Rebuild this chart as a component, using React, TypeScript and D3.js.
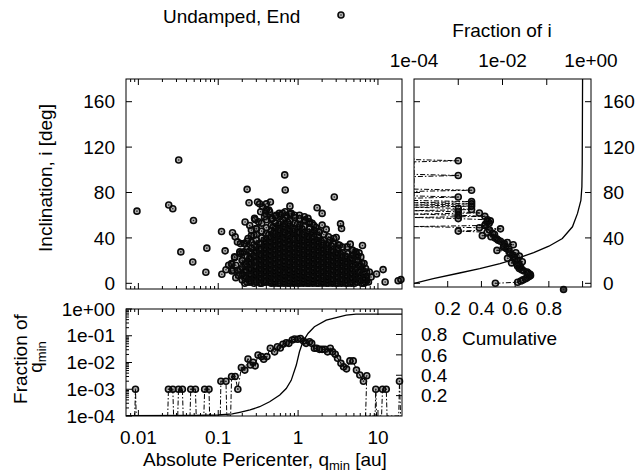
import React from "react";
import * as d3 from "d3";

const FONT = "'Liberation Sans', Arial, Helvetica, sans-serif";
const FS = 19;

// ---------- DATA ----------
// scatter: [q_min (au), inclination (deg)] — isolated points
const scatterOutliers: [number, number][] = [
  [0.0096, 63.6], [0.024, 69], [0.027, 65.7], [0.032, 108.7], [0.034, 27.7], [0.048, 18.8],
  [0.049, 55.4], [0.07, 9.7], [0.072, 31], [0.11, 45.7], [0.122, 28.6], [0.111, 8],
  [0.125, 12], [0.151, 44.5], [0.148, 10.9], [0.166, 5], [0.161, 22.7], [0.147, 16.8],
  [0.23, 82.8], [0.243, 71], [0.31, 71.6], [0.33, 70], [0.217, 54], [0.45, 71.6], [0.4, 70],
  [0.68, 95.5], [0.69, 82.2], [0.79, 68], [1.73, 66.6], [2.0, 61.6], [2.84, 76], [3.4, 52.4],
  [3.5, 48.3], [2.25, 47.5], [4.5, 34.5], [6.4, 33.3], [5.3, 27.7], [5.8, 26.8], [9.6, 8.2],
  [11.6, 12.1], [12.3, 1.2], [17.9, 2.3], [19.4, 3.3], [7.0, 5.6], [7.0, 1.2],
];

// scatter: points around the edge of the dense cloud
const scatterFringe: [number, number][] = [
  [0.163, 41], [0.174, 36.5], [0.19, 35], [0.21, 35], [0.248, 51], [0.29, 56], [0.34, 63],
  [0.36, 67.5], [0.39, 61.6], [0.43, 64.5], [0.21, 27.7], [0.19, 26.3], [0.2, 20.3],
  [0.166, 15.9], [0.174, 11.5], [0.19, 12], [0.18, 7], [0.21, 7], [0.24, 3.3], [0.37, 3.3],
  [0.135, 15.9], [1.2, 58.6], [1.33, 57.2], [1.04, 60], [1.84, 45.4], [1.6, 46.9], [2.5, 38],
  [2.8, 39.5], [3.0, 40.4], [3.3, 33.6], [4.1, 32.1], [4.8, 29.2], [5.3, 26.3], [6.1, 23.3],
  [5.6, 20.3], [6.7, 17.4], [6.1, 14.4], [7.0, 13], [7.8, 10], [5.8, 8.6], [8.2, 5.6],
  [6.9, 2.7], [7.6, 1.2], [5.6, 4.1], [0.285, 57.2], [0.32, 54.2], [0.4, 64.5], [0.44, 63],
  [0.38, 58.6], [0.3, 48.3], [0.28, 42.4], [0.236, 39.5], [0.215, 35], [0.186, 27.7],
  [0.16, 23.3], [0.147, 17.4], [0.154, 11.5], [0.26, 46.9], [0.58, 61.6], [0.64, 61.6],
  [0.71, 60], [0.82, 61.6], [0.9, 60], [0.48, 57], [0.53, 60], [1.22, 55.7], [1.39, 54.2],
  [1.5, 52.8], [1.67, 49.2], [2.0, 51.3],
];

// scatter: dense cloud, estimated as columns [q_min, inclinations...]
const scatterCore: [number, number[]][] = [
  [0.2, [3, 8, 14, 20, 27]],
  [0.23, [1, 5, 10, 15, 19, 24, 30, 37]],
  [0.26, [2, 6, 9, 13, 17, 21, 26, 31, 36, 42]],
  [0.3, [1, 4, 8, 11, 15, 19, 23, 27, 32, 38, 43, 48]],
  [0.35, [0, 3, 7, 10, 14, 18, 22, 26, 30, 35, 40, 46, 53]],
  [0.4, [1, 4, 8, 12, 15, 19, 23, 27, 31, 35, 39, 44, 49, 56]],
  [0.46, [0, 3, 6, 10, 13, 17, 21, 25, 29, 33, 37, 41, 46, 51, 57]],
  [0.52, [2, 5, 8, 12, 15, 19, 23, 27, 31, 35, 39, 43, 48, 53, 59]],
  [0.6, [0, 3, 6, 9, 13, 16, 20, 24, 28, 32, 36, 40, 44, 49, 54, 60]],
  [0.69, [1, 4, 7, 11, 14, 18, 22, 26, 30, 34, 38, 42, 47, 52, 58, 63]],
  [0.79, [0, 2, 5, 9, 12, 16, 20, 24, 28, 32, 36, 40, 45, 50, 55, 61]],
  [0.91, [1, 4, 7, 10, 14, 18, 22, 26, 30, 34, 38, 43, 48, 53, 58]],
  [1.05, [0, 3, 6, 9, 13, 17, 21, 25, 29, 33, 37, 41, 46, 51, 57]],
  [1.2, [1, 4, 8, 11, 15, 19, 23, 27, 31, 35, 40, 45, 50, 55]],
  [1.38, [0, 3, 6, 10, 14, 18, 22, 26, 30, 34, 38, 43, 48, 53]],
  [1.58, [2, 5, 8, 12, 16, 20, 24, 28, 32, 36, 41, 46, 51]],
  [1.82, [0, 3, 7, 11, 15, 19, 23, 27, 31, 35, 40, 45]],
  [2.1, [1, 4, 8, 12, 16, 20, 24, 28, 33, 38, 43]],
  [2.4, [0, 3, 6, 10, 14, 18, 22, 26, 31, 36, 41]],
  [2.75, [2, 5, 9, 13, 17, 21, 25, 30, 35]],
  [3.16, [0, 3, 7, 11, 15, 19, 24, 29, 34]],
  [3.6, [1, 5, 9, 13, 17, 22, 27, 32]],
  [4.2, [0, 3, 7, 11, 16, 21, 26]],
  [4.8, [2, 6, 10, 15, 20, 25, 29]],
  [5.5, [1, 5, 9, 14, 19, 24]],
  [6.3, [0, 4, 8, 13, 18]],
  [7.2, [2, 6, 10]],
];
const scatterCoreMid: [number, number[]][] = [
  [0.215, [0, 5, 11, 17]],
  [0.245, [3, 8, 13, 21, 28]],
  [0.28, [0, 4, 11, 15, 19, 24, 34]],
  [0.325, [2, 6, 10, 13, 17, 21, 25, 29, 35]],
  [0.375, [1, 5, 9, 12, 16, 20, 24, 28, 33, 38]],
  [0.43, [2, 6, 10, 14, 17, 21, 25, 29, 33, 37, 43]],
  [0.49, [1, 4, 8, 11, 15, 19, 23, 27, 31, 35, 39, 44, 50]],
  [0.56, [0, 3, 7, 10, 14, 17, 21, 25, 29, 33, 37, 42, 47]],
  [0.645, [2, 5, 8, 12, 16, 20, 24, 28, 32, 36, 40, 45, 51, 56]],
  [0.74, [0, 3, 6, 10, 13, 17, 21, 25, 29, 33, 37, 42, 48, 54]],
  [0.85, [1, 4, 7, 11, 14, 18, 22, 26, 30, 34, 39, 44, 49]],
  [0.98, [0, 2, 5, 8, 12, 16, 20, 24, 28, 32, 36, 41, 45, 52]],
  [1.12, [1, 4, 7, 11, 15, 19, 23, 27, 31, 35, 39, 43, 48]],
  [1.29, [0, 2, 5, 9, 13, 17, 21, 25, 29, 33, 37, 42]],
  [1.48, [1, 4, 7, 11, 15, 19, 23, 27, 31, 35, 39, 44]],
  [1.7, [0, 3, 6, 10, 14, 18, 22, 26, 30, 34, 38]],
  [1.95, [1, 5, 9, 13, 17, 21, 25, 29, 33, 37]],
  [2.25, [0, 2, 6, 10, 14, 18, 22, 27, 32]],
  [2.6, [1, 4, 8, 12, 16, 20, 24, 28, 33]],
  [2.95, [0, 3, 7, 11, 15, 19, 23, 27]],
  [3.4, [2, 5, 9, 13, 17, 21, 26]],
  [3.9, [0, 4, 8, 12, 16, 20, 24]],
  [4.5, [1, 5, 9, 13, 18, 22]],
  [5.1, [0, 3, 7, 12, 17]],
  [5.9, [2, 6, 11, 16]],
  [6.7, [0, 4, 9]],
];
const scatterCoreLow: [number, number[]][] = [
  [0.25, [1, 7, 12, 18, 23]],
  [0.29, [2, 6, 9, 14, 20, 28]],
  [0.335, [0, 4, 8, 12, 16, 20, 24, 31]],
  [0.385, [2, 6, 10, 14, 18, 22, 26, 30, 36]],
  [0.445, [1, 5, 8, 12, 16, 20, 24, 28, 32, 36, 40]],
  [0.505, [0, 3, 7, 10, 13, 17, 21, 25, 29, 33, 37, 42, 45]],
  [0.58, [1, 5, 8, 11, 15, 18, 22, 26, 30, 34, 38, 43, 46, 52]],
  [0.665, [0, 3, 6, 9, 13, 16, 19, 23, 27, 31, 35, 39, 44, 49]],
  [0.765, [1, 4, 8, 11, 15, 18, 22, 26, 30, 34, 38, 43, 47, 52]],
  [0.88, [0, 3, 6, 9, 12, 16, 20, 24, 27, 31, 35, 40, 46]],
  [1.01, [1, 4, 7, 10, 14, 18, 22, 26, 30, 34, 39, 44, 49]],
  [1.16, [0, 3, 6, 9, 13, 17, 21, 25, 29, 33, 37, 42]],
  [1.33, [1, 4, 7, 11, 15, 19, 23, 27, 31, 35, 40, 45]],
  [1.53, [0, 3, 6, 10, 13, 17, 21, 25, 29, 33, 37]],
  [1.76, [1, 4, 8, 12, 16, 20, 24, 28, 32, 36, 42]],
  [2.02, [0, 3, 6, 10, 14, 18, 22, 26, 30, 35]],
  [2.33, [2, 5, 8, 12, 16, 20, 24, 29, 34]],
  [2.68, [0, 3, 7, 11, 15, 19, 23, 28]],
  [3.05, [1, 5, 9, 13, 17, 21, 26, 31]],
  [3.5, [0, 3, 7, 11, 15, 19, 24]],
  [4.0, [2, 6, 10, 14, 18, 23]],
  [4.65, [0, 4, 8, 12, 16, 21]],
];

// right panel: fraction of particles per 1-degree inclination bin (index = inclination)
const incFraction: number[] = [
  0.0069, 0.022, 0.026, 0.029, 0.033, 0.036, 0.04, 0.043, 0.042, 0.038,
  0.036, 0.03, 0.027, 0.024, 0.026, 0.022, 0.024, 0.021, 0.016, 0.028,
  0.022, 0.019, 0.013, 0.018, 0.024, 0.017, 0.015, 0.02, 0.014, 0.0075,
  0.014, 0.012, 0.0105, 0.0107, 0.0175, 0.011, 0.0128, 0.009, 0.008, 0.0075,
  0.0068, 0.0055, 0.0035, 0.0066, 0.006, 0.0045, 0.001, 0.0051, 0.009, 0.003,
  0, 0.004, 0.0041, 0.005, 0.0045, 0.0053, 0.0046, 0.001, 0, 0.004,
  0.001, 0, 0.003, 0.001, 0, 0.002, 0.001, 0, 0.002, 0,
  0.002, 0, 0.002, 0, 0, 0, 0.001, 0, 0, 0,
  0, 0, 0.002, 0, 0, 0, 0, 0, 0, 0,
  0, 0, 0, 0, 0, 0.001, 0, 0, 0, 0,
  0, 0, 0, 0, 0, 0, 0, 0, 0.001, 0, 0,
];
const incStrayPoint: [number, number] = [0.24, -5.5];
// right panel: cumulative fraction vs inclination [inclination, cumulative]
const incCumulative: [number, number][] = [
  [0, 0], [4.1, 0.114], [9.1, 0.27], [13, 0.39], [17.4, 0.51], [21.8, 0.61], [27.1, 0.71],
  [32.7, 0.8], [39.5, 0.88], [49.8, 0.94], [61.6, 0.97], [73, 0.99], [85, 0.996],
  [106, 0.998], [180, 1.0],
];

// bottom panel: fraction per log bin of q_min [q, fraction] (0 = empty bin)
const qFraction: [number, number][] = [
  [0.009, 0], [0.0092, 0.001], [0.0094, 0],
  [0.0233, 0], [0.0238, 0.001], [0.027, 0.001], [0.0276, 0],
  [0.0311, 0], [0.0318, 0.001], [0.0356, 0.001], [0.0364, 0],
  [0.0443, 0], [0.0453, 0.001], [0.0518, 0.001], [0.053, 0],
  [0.066, 0], [0.0676, 0.001], [0.0766, 0.001], [0.078, 0],
  [0.106, 0], [0.108, 0.002], [0.125, 0.002], [0.128, 0],
  [0.143, 0], [0.147, 0.003], [0.163, 0.003], [0.176, 0.001],
  [0.195, 0.0065], [0.215, 0.0052], [0.236, 0.0135], [0.253, 0.0081], [0.273, 0.0102],
  [0.29, 0.0075], [0.315, 0.019], [0.347, 0.0166], [0.371, 0.0132], [0.407, 0.0166],
  [0.449, 0.034], [0.508, 0.025], [0.55, 0.039], [0.598, 0.035], [0.645, 0.048],
  [0.711, 0.055], [0.766, 0.052], [0.845, 0.069], [0.902, 0.076], [0.991, 0.074],
  [1.07, 0.079], [1.17, 0.063], [1.26, 0.052], [1.39, 0.06], [1.48, 0.052],
  [1.6, 0.034], [1.71, 0.034], [1.85, 0.031], [2.0, 0.031], [2.17, 0.031],
  [2.34, 0.025], [2.53, 0.034], [2.7, 0.025], [2.92, 0.0204], [3.12, 0.0145],
  [3.44, 0.0093], [3.71, 0.0069], [4.04, 0.0058], [4.45, 0.0115], [4.9, 0.0115],
  [5.38, 0.0052], [5.93, 0.0034], [6.58, 0.002], [7.24, 0.0032], [7.0, 0],
  [9.2, 0], [9.4, 0.001], [9.6, 0],
  [11.1, 0], [11.4, 0.001], [12.7, 0.001], [13.0, 0],
  [18.2, 0], [18.6, 0.002], [19.2, 0],
];
// bottom panel: cumulative fraction vs q_min [q, cumulative]
const qCumulative: [number, number][] = [
  [0.007, 0.003], [0.05, 0.006], [0.1, 0.01], [0.15, 0.02], [0.186, 0.036], [0.25, 0.059],
  [0.33, 0.091], [0.44, 0.14], [0.59, 0.206], [0.71, 0.27], [0.82, 0.35], [0.95, 0.5],
  [1.04, 0.63], [1.15, 0.73], [1.33, 0.81], [1.6, 0.876], [2.25, 0.94], [3.0, 0.965],
  [4.0, 0.99], [5.3, 1.0], [20, 1.0],
];

// tick labels
const incTicks = [0, 40, 80, 120, 160];
const qMajorTicks = [0.01, 0.1, 1, 10];
const qTickLabels = ["0.01", "0.1", "1", "10"];
const fracMajorTicks = [1e-4, 1e-3, 1e-2, 1e-1, 1];
const fracTickLabels = ["1e-04", "1e-03", "1e-02", "1e-01", "1e+00"];
const incFracTopLabels: [number, string][] = [[1e-4, "1e-04"], [1e-2, "1e-02"], [1, "1e+00"]];
const cumTicks = [0.2, 0.4, 0.6, 0.8];

// ---------- LAYOUT ----------
const MAIN = { l: 126, r: 402, t: 79, b: 289 };
const RIGHT = { l: 414, r: 591, t: 79, b: 287 };
const BOT = { l: 126, r: 402, t: 309, b: 416 };

const xQ = d3.scaleLog().domain([0.007, 20]).range([MAIN.l, MAIN.r]);
const yInc = d3.scaleLinear().domain([-5, 180]).range([MAIN.b, MAIN.t]);
const xFrac = d3.scaleLog().domain([1e-4, 1]).range([RIGHT.l, RIGHT.r]);
const xCum = d3.scaleLinear().domain([0, 1.05]).range([RIGHT.l, RIGHT.r]);
const yFrac = d3.scaleLog().domain([1e-4, 1]).range([BOT.b, BOT.t]);
const yCum = d3.scaleLinear().domain([0, 1.05]).range([BOT.b, BOT.t]);

const qMinorTicks: number[] = [];
[0.001, 0.01, 0.1, 1, 10].forEach((d) => {
  for (let m = 2; m <= 9; m++) {
    const v = d * m;
    if (v > 0.007 && v < 20) qMinorTicks.push(v);
  }
});
const fracMinorTicks: number[] = [];
[1e-4, 1e-3, 1e-2, 1e-1].forEach((d) => {
  for (let m = 2; m <= 9; m++) fracMinorTicks.push(d * m);
});

const expand = (cols: [number, number[]][]) =>
  cols.flatMap(([q, is]) => is.map((i) => [q, i] as [number, number]));

const scatterPoints: [number, number][] = [
  ...scatterOutliers,
  ...scatterFringe,
  ...expand(scatterCore),
  ...expand(scatterCoreMid),
  ...expand(scatterCoreLow),
];

const DASH = "5,2,1.5,2";

function Marker({ x, y, dark }: { x: number; y: number; dark?: boolean }) {
  return (
    <g>
      <circle cx={x} cy={y} r={3} fill="#000" fillOpacity={dark ? 0.75 : 0.3} stroke="#0a0a0a" strokeWidth={1.6} />
      <circle cx={x} cy={y} r={0.8} fill="#222" />
    </g>
  );
}

export default function App() {
  const incHistLine = d3
    .line<number>()
    .x((f) => (f > 0 ? xFrac(f) : RIGHT.l))
    .y((_, i) => yInc(i))(incFraction) as string;
  const incCumLine = d3
    .line<[number, number]>()
    .x((d) => xCum(d[1]))
    .y((d) => yInc(d[0]))(incCumulative) as string;
  const qHistLine = d3
    .line<[number, number]>()
    .x((d) => xQ(d[0]))
    .y((d) => (d[1] > 0 ? yFrac(d[1]) : BOT.b))(qFraction) as string;
  const qCumLine = d3
    .line<[number, number]>()
    .x((d) => xQ(d[0]))
    .y((d) => yCum(d[1]))(qCumulative) as string;

  const tk = { stroke: "#000", strokeWidth: 1 };
  const txt = { fontFamily: FONT, fontSize: FS, fill: "#000" } as const;

  return (
    <svg width={636} height={474} style={{ position: "absolute", left: 0, top: 0, background: "#fff" }}>
      <defs>
        <clipPath id="clipR">
          <rect x={RIGHT.l} y={RIGHT.t} width={RIGHT.r - RIGHT.l} height={RIGHT.b - RIGHT.t} />
        </clipPath>
        <clipPath id="clipB">
          <rect x={BOT.l} y={BOT.t} width={BOT.r - BOT.l} height={BOT.b - BOT.t} />
        </clipPath>
      </defs>
      <rect x={0} y={0} width={636} height={474} fill="#fff" />

      {/* legend */}
      <text {...txt} x={163} y={23}>Undamped, End</text>
      <Marker x={341} y={15} />

      {/* ===== main panel ===== */}
      <rect x={MAIN.l} y={MAIN.t} width={MAIN.r - MAIN.l} height={MAIN.b - MAIN.t} fill="none" stroke="#000" strokeWidth={1} />
      {incTicks.map((v) => (
        <g key={"mi" + v}>
          <line x1={MAIN.l} x2={MAIN.l + 6} y1={yInc(v)} y2={yInc(v)} {...tk} />
          <line x1={MAIN.r} x2={MAIN.r - 6} y1={yInc(v)} y2={yInc(v)} {...tk} />
          <text {...txt} x={115} y={yInc(v)} dy="0.35em" textAnchor="end">{v}</text>
        </g>
      ))}
      {qMajorTicks.map((v) => (
        <g key={"mq" + v}>
          <line x1={xQ(v)} x2={xQ(v)} y1={MAIN.b} y2={MAIN.b - 6} {...tk} />
          <line x1={xQ(v)} x2={xQ(v)} y1={MAIN.t} y2={MAIN.t + 6} {...tk} />
        </g>
      ))}
      {qMinorTicks.map((v) => (
        <g key={"mqm" + v}>
          <line x1={xQ(v)} x2={xQ(v)} y1={MAIN.b} y2={MAIN.b - 3} {...tk} />
          <line x1={xQ(v)} x2={xQ(v)} y1={MAIN.t} y2={MAIN.t + 3} {...tk} />
        </g>
      ))}
      <text {...txt} transform={`translate(52,178) rotate(-90)`} textAnchor="middle">Inclination, i [deg]</text>
      {scatterPoints.map(([q, i], k) => (
        <Marker key={"s" + k} x={xQ(q)} y={yInc(i)} />
      ))}

      {/* ===== right panel ===== */}
      <rect x={RIGHT.l} y={RIGHT.t} width={RIGHT.r - RIGHT.l} height={RIGHT.b - RIGHT.t} fill="none" stroke="#000" strokeWidth={1} />
      {incTicks.map((v) => (
        <g key={"ri" + v}>
          <line x1={RIGHT.l} x2={RIGHT.l + 6} y1={yInc(v)} y2={yInc(v)} {...tk} />
          <line x1={RIGHT.r} x2={RIGHT.r - 6} y1={yInc(v)} y2={yInc(v)} {...tk} />
          <text {...txt} x={603} y={yInc(v)} dy="0.35em">{v}</text>
        </g>
      ))}
      {[1e-3, 1e-2, 1e-1].map((v) => (
        <line key={"rf" + v} x1={xFrac(v)} x2={xFrac(v)} y1={RIGHT.t} y2={RIGHT.t + 6} {...tk} />
      ))}
      {incFracTopLabels.map(([v, s]) => (
        <text key={"rfl" + v} {...txt} x={xFrac(v)} y={67} textAnchor="middle">{s}</text>
      ))}
      <text {...txt} x={502} y={37} textAnchor="middle">Fraction of i</text>
      {[0.2, 0.4, 0.6, 0.8, 1.0].map((v) => (
        <line key={"rc" + v} x1={xCum(v)} x2={xCum(v)} y1={RIGHT.b} y2={RIGHT.b - 6} {...tk} />
      ))}
      {cumTicks.map((v) => (
        <text key={"rcl" + v} {...txt} x={xCum(v)} y={315} textAnchor="middle">{v.toFixed(1)}</text>
      ))}
      <g clipPath="url(#clipR)">
        <path d={incHistLine} fill="none" stroke="#000" strokeWidth={1} strokeDasharray={DASH} />
        <path d={incCumLine} fill="none" stroke="#000" strokeWidth={1.3} />
      </g>
      {incFraction.map((f, i) =>
        f > 0 ? <Marker key={"rh" + i} x={xFrac(f)} y={yInc(i)} /> : null
      )}
      <Marker x={xFrac(incStrayPoint[0])} y={yInc(incStrayPoint[1])} dark />

      {/* ===== bottom panel ===== */}
      <rect x={BOT.l} y={BOT.t} width={BOT.r - BOT.l} height={BOT.b - BOT.t} fill="none" stroke="#000" strokeWidth={1} />
      {fracMajorTicks.map((v, k) => (
        <g key={"bf" + v}>
          <line x1={BOT.l} x2={BOT.l + 6} y1={yFrac(v)} y2={yFrac(v)} {...tk} />
          <text {...txt} x={115} y={yFrac(v)} dy="0.35em" textAnchor="end">{fracTickLabels[k]}</text>
        </g>
      ))}
      {fracMinorTicks.map((v) => (
        <line key={"bfm" + v} x1={BOT.l} x2={BOT.l + 3} y1={yFrac(v)} y2={yFrac(v)} {...tk} />
      ))}
      {qMajorTicks.map((v, k) => (
        <g key={"bq" + v}>
          <line x1={xQ(v)} x2={xQ(v)} y1={BOT.b} y2={BOT.b - 6} {...tk} />
          <line x1={xQ(v)} x2={xQ(v)} y1={BOT.t} y2={BOT.t + 6} {...tk} />
          <text {...txt} x={xQ(v)} y={444} textAnchor="middle">{qTickLabels[k]}</text>
        </g>
      ))}
      {qMinorTicks.map((v) => (
        <g key={"bqm" + v}>
          <line x1={xQ(v)} x2={xQ(v)} y1={BOT.b} y2={BOT.b - 3} {...tk} />
          <line x1={xQ(v)} x2={xQ(v)} y1={BOT.t} y2={BOT.t + 3} {...tk} />
        </g>
      ))}
      {cumTicks.map((v) => (
        <g key={"bc" + v}>
          <line x1={BOT.r} x2={BOT.r - 6} y1={yCum(v)} y2={yCum(v)} {...tk} />
          <text {...txt} x={421} y={yCum(v)} dy="0.35em">{v.toFixed(1)}</text>
        </g>
      ))}
      <text {...txt} x={462} y={345}>Cumulative</text>
      <g clipPath="url(#clipB)">
        <path d={qHistLine} fill="none" stroke="#000" strokeWidth={1} strokeDasharray={DASH} />
        <path d={qCumLine} fill="none" stroke="#000" strokeWidth={1.3} />
      </g>
      {qFraction.map(([q, f], k) =>
        f > 0 ? <Marker key={"bh" + k} x={xQ(q)} y={yFrac(f)} /> : null
      )}
      <text {...txt} transform={`translate(27,359) rotate(-90)`} textAnchor="middle">Fraction of</text>
      <text {...txt} transform={`translate(42,357) rotate(-90)`} textAnchor="middle">
        q<tspan fontSize={13} dy={4}>min</tspan>
      </text>
      <text {...txt} x={265} y={466} textAnchor="middle">
        Absolute Pericenter, q<tspan fontSize={13} dy={4}>min</tspan>
        <tspan dy={-4}>{" [au]"}</tspan>
      </text>
    </svg>
  );
}
